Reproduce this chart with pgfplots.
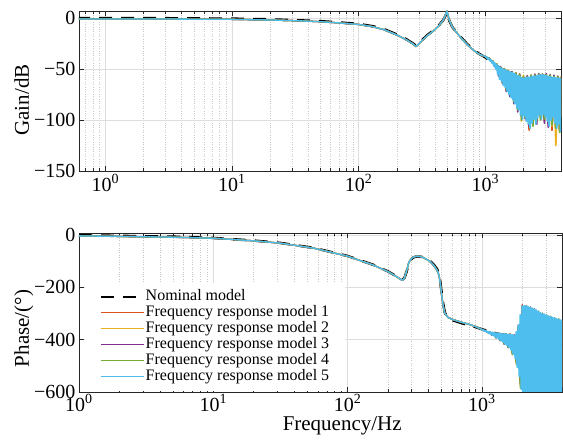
\documentclass[border=0pt]{standalone}
\usepackage{fontspec}
\setmainfont{Liberation Serif}
\usepackage{pgfplots}
\usepackage{pgfplotstable}
\pgfplotsset{compat=1.18}
\definecolor{c1}{rgb}{0.850,0.325,0.098}
\definecolor{c2}{rgb}{0.929,0.694,0.125}
\definecolor{c3}{rgb}{0.494,0.184,0.556}
\definecolor{c4}{rgb}{0.466,0.674,0.188}
\definecolor{c5}{rgb}{0.301,0.745,0.933}

% nominal model: f, gain (dB), phase (deg)
\pgfplotstableread{
f g
0.6 0
1 0
3 -0.1
10 -0.5
20 -1.2
35 -2.2
50 -3
70 -4.2
100 -5.7
130 -8
160 -11
200 -16
240 -21
270 -25
283 -27
295 -25.5
320 -21
350 -16.5
390 -12
430 -7
465 -2
485 2.5
497 5.5
505 3
520 -2.5
550 -9
600 -14.5
650 -19.5
720 -25.5
800 -30.5
880 -34.5
1000 -38.5
1150 -44
1300 -49
1500 -53
1700 -57
2000 -61
2500 -67
3000 -71
3500 -74
4000 -77
}\gnom

\pgfplotstableread{
f p
1 -1
2 -3
5 -6
10 -11
20 -21
31.6 -30
56 -49
100 -80
156 -114
200 -139
230 -157
255 -171
265 -164
275 -140
286 -108
298 -92
310 -85
330 -81
360 -84
410 -98
440 -114
465 -131
480 -150
490 -178
500 -215
515 -262
530 -297
560 -317
600 -325
700 -336
800 -345
900 -352
1000 -360
1300 -377
1600 -385
2000 -395
3000 -410
4000 -420
}\pnom

% measured frequency responses, smooth part (common to models)
\pgfplotstableread{
f g
0.6 -0.8
1 -0.8
3 -0.9
10 -1.2
20 -1.8
35 -2.7
50 -3.5
70 -4.7
100 -6.2
130 -8.5
160 -11.5
200 -16.5
240 -21.5
270 -25.5
283 -28
295 -26
320 -21.5
350 -17
390 -12.5
430 -7.5
465 -2
485 3
497 7
505 4
520 -2
550 -9
600 -15
650 -20
720 -26
800 -31
880 -35
950 -36.8
1000 -37.5
}\gmeas

\pgfplotstableread{
f p
1 -3
2 -5
5 -8
10 -12
20 -22
31.6 -31
56 -50
100 -81
156 -115
200 -140
230 -158
255 -173
265 -165
275 -137
286 -104
298 -90
310 -84
330 -80
360 -84
410 -100
440 -117
465 -135
480 -155
490 -185
500 -225
515 -270
530 -300
560 -315
600 -322
700 -333
787 -340
900 -350
1000 -361
}\pmeas

% high-frequency part, model 5
\pgfplotstableread{
f g5 p5
1000 -37.5 -361
1017.5 -38.5 -363
1035 -38.5 -364
1053 -40.5 -368
1072 -39.5 -366
1091 -42 -372
1110 -41 -369
1129 -44 -376
1149 -42.5 -370
1169 -47 -380
1189 -44 -372
1210 -50 -384
1231 -45.5 -373
1253 -55 -389
1275 -47 -374
1297 -60 -393
1320 -48.5 -375
1343 -62 -398
1366 -49.5 -376
1390 -66 -404
1414 -50.5 -377
1439 -68 -410
1464 -51 -378
1490 -72 -417
1516 -52 -378
1542 -75 -422
1569 -52.5 -379
1597 -78 -430
1625 -53.5 -380
1653 -80 -440
1682 -54 -381
1711 -84 -455
1741 -55 -383
1772 -88 -472
1803 -56.5 -370
1834 -90 -505
1866 -57 -345
1899 -95 -540
1932 -58.5 -305
1966 -99 -590
2000 -59 -272
2035 -96 -680
2071 -58.5 -270
2107 -101 -700
2144 -58 -271
2181 -104 -690
2219 -58 -274
2258 -108 -700
2298 -57.5 -277
2338 -103 -695
2379 -57 -280
2420 -99 -700
2462 -57 -283
2505 -104 -690
2549 -56.5 -287
2594 -98 -700
2639 -56 -292
2685 -95 -695
2732 -55.5 -297
2780 -99 -700
2828 -55.5 -300
2878 -94 -690
2928 -56 -303
2979 -97 -700
3031 -56.5 -306
3084 -101 -695
3138 -57 -309
3193 -106 -700
3249 -57.5 -312
3306 -100 -690
3364 -58 -315
3422 -97 -700
3482 -58 -318
3543 -103 -695
3605 -58.5 -320
3668 -108 -700
3732 -59 -322
3797 -104 -690
3864 -59 -325
3931 -111 -700
4000 -59 -327
}\band

% high-frequency part, models 1-4
\pgfplotstableread{
f g1 g2 g3 g4 p1 p2 p3 p4
1000 -37.5 -37.5 -37.5 -37.5 -361 -361 -361 -361
1035 -39 -39.5 -39 -39 -365 -366 -365 -365
1072 -39.5 -39 -39.5 -39.5 -366 -365 -366 -366
1110 -42 -42.5 -42 -42 -373 -374 -372 -373
1149 -42.5 -42 -42.5 -42.5 -370 -369 -370 -370
1189 -47 -46 -47.5 -46.5 -382 -381 -383 -382
1231 -45.5 -45 -45.5 -45 -372 -373 -372 -373
1275 -56 -55 -57 -56 -392 -391 -394 -393
1320 -48 -48 -47.5 -48 -374 -375 -374 -374
1366 -63 -62 -64 -63 -402 -403 -404 -402
1414 -50 -49.5 -50 -50 -377 -376 -377 -376
1464 -70 -71 -72 -70 -415 -414 -418 -416
1516 -51.5 -51 -51.5 -51.5 -378 -377 -378 -377
1569 -74 -76 -77 -75 -426 -428 -431 -429
1625 -53 -52.5 -52.5 -53 -376 -379 -380 -379
1682 -80 -79 -84 -82 -446 -450 -452 -458
1741 -54 -53.5 -54 -54 -382 -381 -380 -383
1803 -86 -88 -92 -90 -488 -480 -484 -495
1866 -56 -54.5 -55 -55.5 -352 -348 -344 -347
1932 -92 -101 -97 -100 -560 -575 -570 -585
2000 -58 -56 -57.5 -57 -266 -270 -268 -272
2071 -97 -96 -99 -98 -700 -690 -700 -695
2144 -57 -57 -56.5 -57.5 -270 -268 -270 -271
2219 -110 -104 -106 -103 -700 -700 -690 -700
2298 -56.5 -56 -56 -56 -276 -276 -275 -277
2379 -100 -102 -98 -106 -690 -700 -700 -695
2462 -56 -55.5 -55 -56 -283 -282 -281 -284
2549 -102 -100 -104 -101 -700 -695 -700 -700
2639 -55 -55 -54.5 -55 -291 -290 -292 -291
2732 -96 -99 -97 -100 -700 -700 -690 -700
2828 -55 -54.5 -55 -55 -299 -298 -300 -299
2928 -98 -101 -103 -99 -695 -700 -700 -690
3031 -55.5 -55 -54.5 -55.5 -305 -304 -306 -305
3138 -103 -104 -107 -102 -700 -690 -700 -700
3249 -56.5 -56 -55.5 -56 -311 -310 -312 -311
3364 -110 -106 -104 -105 -700 -700 -695 -700
3482 -57 -56.5 -56 -57 -317 -316 -318 -317
3605 -104 -125 -106 -108 -690 -700 -700 -695
3732 -58 -57 -57 -57.5 -321 -320 -322 -321
3864 -108 -112 -110 -112 -700 -695 -700 -700
4000 -58 -57 -57.5 -57.5 -326 -325 -327 -326
}\sparse

\begin{document}
\begin{tikzpicture}[x=1pt,y=1pt]
\path[use as bounding box] (0,0) rectangle (563,441);

\begin{axis}[
  scale only axis, xmode=log,
  at={(79pt,270pt)}, anchor=south west, width=482pt, height=160pt,
  xmin=0.62, xmax=3960, ymin=-150, ymax=7,
  axis line style={black!85, line width=0.6pt},
  tick align=inside, major tick length=5pt, minor tick length=3pt,
  tick style={black!85, line width=0.5pt},
  xmajorgrids, xminorgrids, ymajorgrids,
  major grid style={black!13, line width=0.5pt},
  minor grid style={black!22, dotted, line width=0.5pt},
  tick label style={font=\fontsize{20}{24}\selectfont},
  label style={font=\fontsize{21}{25}\selectfont},
  xtick={1,10,100,1000},
  xticklabels={10\textsuperscript{0},10\textsuperscript{1},10\textsuperscript{2},10\textsuperscript{3}},
  minor xtick={0.7,0.8,0.9,2,3,4,5,6,7,8,9,20,30,40,50,60,70,80,90,200,300,400,500,600,700,800,900,2000,3000},
  ytick={-150,-100,-50,0}, yticklabels={−150,−100,−50,0},
  ylabel={Gain/dB},
  ylabel style={at={(axis description cs:-0.104,0.444)}, anchor=base},
]
\addplot[black, line width=2.5pt, dash pattern=on 13pt off 9pt] table[x=f,y=g]{\gnom};
\addplot[c1, line width=1.3pt, line join=round] table[x=f,y=g]{\gmeas};
\addplot[c1, line width=1.7pt, line join=round] table[x=f,y=g1]{\sparse};
\addplot[c2, line width=1.3pt, line join=round] table[x=f,y=g]{\gmeas};
\addplot[c2, line width=1.7pt, line join=round] table[x=f,y=g2]{\sparse};
\addplot[c3, line width=1.3pt, line join=round] table[x=f,y=g]{\gmeas};
\addplot[c3, line width=1.7pt, line join=round] table[x=f,y=g3]{\sparse};
\addplot[c4, line width=1.3pt, line join=round] table[x=f,y=g]{\gmeas};
\addplot[c4, line width=1.7pt, line join=round] table[x=f,y=g4]{\sparse};
\addplot[c5, line width=1.3pt, line join=round] table[x=f,y=g]{\gmeas};
\addplot[c5, line width=1.8pt, line join=round] table[x=f,y=g5]{\band};
\end{axis}

\begin{axis}[
  scale only axis, xmode=log,
  at={(79pt,49pt)}, anchor=south west, width=483pt, height=159pt,
  xmin=1, xmax=3950, ymin=-600, ymax=8,
  axis line style={black!85, line width=0.6pt},
  tick align=inside, major tick length=5pt, minor tick length=3pt,
  tick style={black!85, line width=0.5pt},
  xmajorgrids, xminorgrids, ymajorgrids,
  major grid style={black!13, line width=0.5pt},
  minor grid style={black!22, dotted, line width=0.5pt},
  tick label style={font=\fontsize{20}{24}\selectfont},
  xticklabel style={yshift=1pt},
  label style={font=\fontsize{21}{25}\selectfont},
  xtick={1,10,100,1000},
  xticklabels={10\textsuperscript{0},10\textsuperscript{1},10\textsuperscript{2},10\textsuperscript{3}},
  minor xtick={2,3,4,5,6,7,8,9,20,30,40,50,60,70,80,90,200,300,400,500,600,700,800,900,2000,3000},
  ytick={-600,-400,-200,0}, yticklabels={−600,−400,−200,0},
  ylabel={Phase/(°)},
  ylabel style={at={(axis description cs:-0.104,0.40)}, anchor=base},
  xlabel={Frequency/Hz},
  xlabel style={at={(axis description cs:0.545,-0.245)}, anchor=base},
  legend cell align=left,
  legend style={at={(0.0114,0.006)}, anchor=south west, draw=none, fill=white,
    font=\fontsize{16}{16}\selectfont, inner xsep=15pt, inner ysep=6pt,
    nodes={inner sep=0.5pt, text height=11.5pt, text depth=3.5pt}},
  legend image code/.code={\draw[#1] (0pt,0pt) -- (43pt,0pt);},
]
\addplot[black, line width=2.5pt, dash pattern=on 13pt off 9pt] table[x=f,y=p]{\pnom};
\addlegendentry{Nominal model}
\addplot[c1, line width=1.3pt, line join=round, forget plot] table[x=f,y=p]{\pmeas};
\addplot[c1, line width=1.3pt, line join=round, forget plot] table[x=f,y=p1]{\sparse};
\addplot[c2, line width=1.3pt, line join=round, forget plot] table[x=f,y=p]{\pmeas};
\addplot[c2, line width=1.3pt, line join=round, forget plot] table[x=f,y=p2]{\sparse};
\addplot[c3, line width=1.3pt, line join=round, forget plot] table[x=f,y=p]{\pmeas};
\addplot[c3, line width=1.3pt, line join=round, forget plot] table[x=f,y=p3]{\sparse};
\addplot[c4, line width=1.3pt, line join=round, forget plot] table[x=f,y=p]{\pmeas};
\addplot[c4, line width=1.3pt, line join=round, forget plot] table[x=f,y=p4]{\sparse};
\addplot[c5, line width=1.3pt, line join=round, forget plot] table[x=f,y=p]{\pmeas};
\addplot[c5, line width=1.8pt, line join=round, forget plot] table[x=f,y=p5]{\band};
\addlegendimage{c1, line width=1.2pt}
\addlegendentry{Frequency response model 1}
\addlegendimage{c2, line width=1.2pt}
\addlegendentry{Frequency response model 2}
\addlegendimage{c3, line width=1.2pt}
\addlegendentry{Frequency response model 3}
\addlegendimage{c4, line width=1.2pt}
\addlegendentry{Frequency response model 4}
\addlegendimage{c5, line width=1.2pt}
\addlegendentry{Frequency response model 5}
\end{axis}
\end{tikzpicture}
\end{document}
